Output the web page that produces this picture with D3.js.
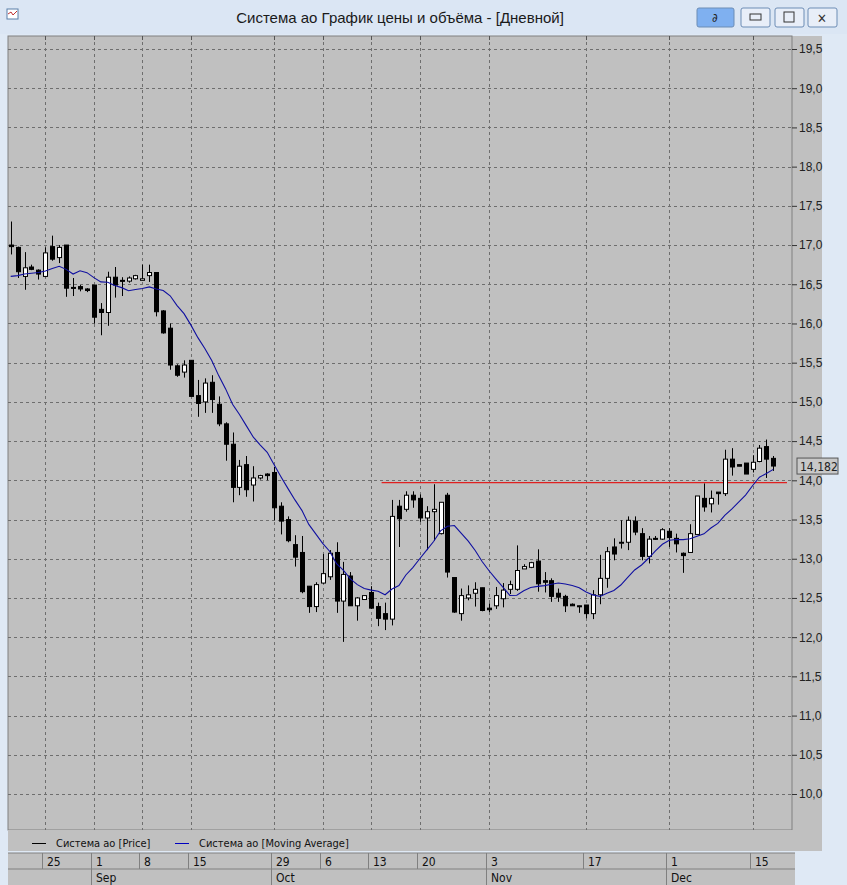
<!DOCTYPE html>
<html>
<head>
<meta charset="utf-8">
<script src="https://cdn.jsdelivr.net/npm/d3@7/dist/d3.min.js"></script>
<style>
  body { margin: 0; background: #dfe9f5; }
  svg { display: block; font-family: "Liberation Sans Narrow", "DejaVu Sans Condensed", sans-serif; }
</style>
</head>
<body>
<div id="chart"></div>
<script>
// OHLC per trading session
const opens  = [17.00,16.97,16.60,16.72,16.68,16.60,16.98,16.84,17.00,16.46,16.47,16.44,16.49,16.18,16.14,16.59,16.55,16.54,16.57,16.55,
  16.61,16.65,16.16,15.94,15.46,15.38,15.53,15.08,15.00,15.25,14.97,14.72,14.46,13.91,14.20,13.94,14.03,14.08,14.10,13.67,
  13.50,13.18,13.08,12.65,12.39,12.69,12.77,13.08,12.46,12.78,12.40,12.48,12.57,12.39,12.30,12.23,13.67,13.63,13.81,13.77,
  13.52,13.60,13.32,13.81,12.76,12.30,12.50,12.56,12.63,12.37,12.40,12.49,12.61,12.61,12.87,12.89,12.97,12.72,12.72,12.56,
  12.52,12.42,12.40,12.41,12.30,12.54,12.75,13.15,13.21,13.21,13.48,13.32,13.03,13.26,13.25,13.35,13.26,13.07,13.08,13.31,
  13.77,13.70,13.85,13.83,14.27,14.20,14.22,14.14,14.24,14.43,14.28];
const highs  = [17.30,16.98,16.91,16.75,16.69,16.97,17.12,17.00,17.00,16.58,16.49,16.45,16.49,16.26,16.66,16.72,16.59,16.60,16.62,16.75,
  16.75,16.65,16.17,16.00,15.48,15.53,15.53,15.28,15.30,15.34,15.07,14.74,14.61,14.26,14.31,14.18,14.07,14.09,14.17,13.72,
  13.54,13.30,13.29,12.65,12.70,13.06,13.11,13.21,12.96,12.83,12.51,12.53,12.65,12.44,12.44,13.75,13.75,13.86,13.86,13.82,
  13.67,13.95,13.72,13.84,12.76,12.62,12.66,12.70,12.63,12.43,12.64,12.69,12.72,13.17,12.93,12.96,13.12,12.83,12.75,12.62,
  12.54,12.43,12.40,12.41,12.60,13.05,13.15,13.26,13.49,13.54,13.54,13.39,13.29,13.29,13.39,13.39,13.32,13.08,13.44,13.80,
  13.96,13.87,13.85,14.39,14.41,14.20,14.22,14.32,14.45,14.52,14.31];
const lows   = [16.88,16.58,16.43,16.68,16.56,16.59,16.80,16.77,16.34,16.35,16.41,16.40,16.00,15.85,15.97,16.33,16.35,16.52,16.56,16.55,
  16.53,16.09,15.87,15.41,15.32,15.31,15.07,14.81,14.86,14.86,14.69,14.25,13.72,13.81,13.79,13.73,14.01,14.00,13.49,13.31,
  13.21,12.90,12.56,12.31,12.32,12.68,12.73,12.31,11.94,12.40,12.21,12.48,12.36,12.14,12.09,12.15,13.15,13.60,13.65,13.47,
  13.11,13.23,13.31,12.76,12.31,12.21,12.47,12.39,12.33,12.32,12.36,12.38,12.55,12.59,12.87,12.88,12.58,12.57,12.45,12.45,
  12.32,12.40,12.31,12.24,12.23,12.42,12.63,12.98,13.13,13.11,13.30,12.98,12.94,13.24,13.24,13.15,13.08,12.82,13.08,13.31,
  13.60,13.59,13.69,13.80,14.06,14.18,14.08,14.10,14.23,14.03,14.12];
const closes = [16.98,16.66,16.71,16.69,16.63,16.90,16.82,16.97,16.45,16.45,16.44,16.42,16.08,16.14,16.59,16.49,16.54,16.58,16.61,16.57,
  16.65,16.15,15.88,15.47,15.34,15.47,15.07,14.98,15.24,15.03,14.72,14.46,13.91,14.18,13.88,14.03,14.06,14.06,13.65,13.48,
  13.23,13.02,12.58,12.39,12.67,12.81,13.07,12.46,12.80,12.40,12.50,12.53,12.37,12.24,12.23,13.54,13.51,13.81,13.75,13.52,
  13.60,13.63,13.72,12.83,12.32,12.53,12.54,12.61,12.34,12.35,12.53,12.60,12.67,12.85,12.90,12.95,12.68,12.70,12.52,12.51,
  12.40,12.40,12.39,12.30,12.54,12.75,13.09,13.06,13.21,13.49,13.34,13.03,13.25,13.25,13.37,13.27,13.19,13.04,13.32,13.80,
  13.66,13.77,13.83,14.27,14.17,14.18,14.08,14.23,14.41,14.27,14.182];
// moving average (10) values at the first sessions
const maSeed = [16.60,16.61,16.63,16.64,16.65,16.67,16.70,16.73,16.69,16.63];
const maPeriod = 10;

const dayTickIdx   = [5, 12, 19, 26, 38, 45, 52, 59, 69, 83, 95, 107];
const dayTickLabel = ["25", "1", "8", "15", "29", "6", "13", "20", "3", "17", "1", "15"];
const monthIdx     = [12, 38, 69, 95];
const monthLabel   = ["Sep", "Oct", "Nov", "Dec"];
const priceTicks   = d3.range(10, 19.51, 0.5);
const levelValue = 13.97, levelFrom = 53.5;

const W = 847, H = 885;
const plot = { left: 8, right: 792, top: 36, bottom: 830 };

const svg = d3.select("#chart").append("svg").attr("width", W).attr("height", H);

// window frame
svg.append("rect").attr("width", W).attr("height", H).attr("fill", "#dfe9f5");
svg.append("rect").attr("width", W).attr("height", 34).attr("fill", "#dbe6f4");
svg.append("rect").attr("x", 7).attr("y", 9).attr("width", 11).attr("height", 10).attr("fill", "#fff").attr("stroke", "#5a7fa8");
svg.append("path").attr("d", "M8,14 L11,12 L13,15 L17,11").attr("stroke", "#c03030").attr("fill", "none");
svg.append("text").attr("x", 400).attr("y", 23).attr("text-anchor", "middle").attr("font-size", 15)
  .attr("font-family", "Liberation Sans, sans-serif").attr("fill", "#1a1a1a")
  .text("Система ао График цены и объёма - [Дневной]");
const buttons = [[697, "#7fb0f0"], [741, "#e8eef8"], [775, "#e8eef8"], [808, "#e8eef8"]];
buttons.forEach(([bx, c]) => {
  svg.append("rect").attr("x", bx).attr("y", 8).attr("width", bx === 697 ? 37 : 29).attr("height", 19)
    .attr("rx", 2).attr("fill", c).attr("stroke", "#6d8db5");
});
svg.append("rect").attr("x", 750).attr("y", 14).attr("width", 11).attr("height", 6).attr("fill", "none").attr("stroke", "#333");
svg.append("rect").attr("x", 784).attr("y", 12).attr("width", 10).attr("height", 10).attr("fill", "none").attr("stroke", "#333");
svg.append("text").attr("x", 822).attr("y", 23).attr("text-anchor", "middle").attr("font-size", 13).attr("fill", "#333").text("✕");
svg.append("text").attr("x", 715).attr("y", 22).attr("text-anchor", "middle").attr("font-size", 12).attr("fill", "#222").text("∂");

// chart panes
svg.append("rect").attr("x", plot.left).attr("y", plot.top).attr("width", 814).attr("height", 794).attr("fill", "#c0c0c0");
svg.append("rect").attr("x", plot.left).attr("y", plot.top).attr("width", plot.right - plot.left).attr("height", plot.bottom - plot.top)
  .attr("fill", "#c0c0c0").attr("stroke", "#808080");
svg.append("rect").attr("x", plot.left).attr("y", 830).attr("width", 814).attr("height", 21).attr("fill", "#c0c0c0");
svg.append("rect").attr("x", plot.left).attr("y", 853).attr("width", 787).attr("height", 32).attr("fill", "#c0c0c0");
svg.append("line").attr("x1", plot.left).attr("x2", 795).attr("y1", 869).attr("y2", 869).attr("stroke", "#808080");
svg.append("line").attr("x1", plot.left).attr("x2", 795).attr("y1", 853).attr("y2", 853).attr("stroke", "#808080");

const n = closes.length;
const x = d3.scaleLinear().domain([0, n - 1]).range([10.7, 773.3]);
const y = d3.scaleLinear().domain([10, 19.5]).range([794, 49]);

const g = svg.append("g");

// grid
g.selectAll(".hg").data(priceTicks).join("line")
  .attr("x1", plot.left).attr("x2", plot.right)
  .attr("y1", d => Math.round(y(d)) + 0.5).attr("y2", d => Math.round(y(d)) + 0.5)
  .attr("stroke", "#6e6e6e").attr("stroke-dasharray", "3,3");
g.selectAll(".vg").data(dayTickIdx).join("line")
  .attr("x1", d => Math.round(x(d)) + 0.5).attr("x2", d => Math.round(x(d)) + 0.5)
  .attr("y1", plot.top).attr("y2", plot.bottom)
  .attr("stroke", "#6e6e6e").attr("stroke-dasharray", "3,3");

// y axis on the right
const yAxis = d3.axisRight(y).tickValues(priceTicks).tickSize(5)
  .tickFormat(d => d3.format(".1f")(d).replace(".", ","));
const ya = svg.append("g").attr("transform", `translate(${plot.right},0)`).call(yAxis);
ya.select(".domain").remove();
ya.selectAll("line").attr("stroke", "#333");
ya.selectAll("text").attr("font-size", 12).attr("fill", "#222").attr("x", 7);

// level line
g.append("line").attr("x1", x(levelFrom)).attr("x2", 787)
  .attr("y1", y(levelValue)).attr("y2", y(levelValue)).attr("stroke", "#e02020").attr("stroke-width", 1.2);

// candles
const data = closes.map((c, i) => ({ i, o: opens[i], h: highs[i], l: lows[i], c }));
const bw = 5;
g.selectAll(".wick").data(data).join("line")
  .attr("x1", d => Math.round(x(d.i)) + 0.5).attr("x2", d => Math.round(x(d.i)) + 0.5)
  .attr("y1", d => y(d.h)).attr("y2", d => y(d.l)).attr("stroke", "#000");
g.selectAll(".body").data(data).join("rect")
  .attr("x", d => Math.round(x(d.i)) - 2 + 0.5)
  .attr("y", d => y(Math.max(d.o, d.c)))
  .attr("width", bw - 1)
  .attr("height", d => Math.max(1, Math.abs(y(d.o) - y(d.c))))
  .attr("fill", d => d.c >= d.o ? "#fff" : "#000")
  .attr("stroke", "#000");

// moving average
const ma = closes.map((c, i) => i < maSeed.length ? maSeed[i] : d3.mean(closes.slice(i - maPeriod + 1, i + 1)));
g.append("path").datum(ma)
  .attr("d", d3.line().x((d, i) => x(i)).y(d => y(d)))
  .attr("fill", "none").attr("stroke", "#1010a0").attr("stroke-width", 1.1);

// last price label
const last = closes[n - 1];
svg.append("rect").attr("x", 797).attr("y", y(last) - 8).attr("width", 41).attr("height", 16)
  .attr("fill", "#c8c8c8").attr("stroke", "#555");
svg.append("text").attr("x", 800).attr("y", y(last) + 4.5).attr("font-size", 12).attr("fill", "#222")
  .text(String(last).replace(".", ","));

// top tick marks
svg.selectAll(".tt").data(dayTickIdx).join("line")
  .attr("x1", d => Math.round(x(d)) + 0.5).attr("x2", d => Math.round(x(d)) + 0.5)
  .attr("y1", plot.top).attr("y2", plot.top + 4).attr("stroke", "#555");

// legend
const legend = [["#000", "Система ао [Price]", 32], ["#0000c0", "Система ао [Moving Average]", 175]];
legend.forEach(([c, t, lx]) => {
  svg.append("line").attr("x1", lx).attr("x2", lx + 14).attr("y1", 843.5).attr("y2", 843.5).attr("stroke", c);
  svg.append("text").attr("x", lx + 24).attr("y", 847).attr("font-size", 11).attr("fill", "#111").text(t);
});

// date axis
const xa = svg.append("g");
xa.selectAll(".sep").data(dayTickIdx).join("line")
  .attr("x1", d => Math.round(x(d)) - 2.5).attr("x2", d => Math.round(x(d)) - 2.5)
  .attr("y1", 853).attr("y2", 869).attr("stroke", "#808080");
xa.selectAll(".dl").data(dayTickIdx).join("text")
  .attr("x", d => Math.round(x(d)) + 2).attr("y", 866).attr("font-size", 12).attr("fill", "#111")
  .text((d, k) => dayTickLabel[k]);
xa.selectAll(".msep").data(monthIdx).join("line")
  .attr("x1", d => Math.round(x(d)) - 2.5).attr("x2", d => Math.round(x(d)) - 2.5)
  .attr("y1", 869).attr("y2", 885).attr("stroke", "#808080");
xa.selectAll(".ml").data(monthIdx).join("text")
  .attr("x", d => Math.round(x(d)) + 2).attr("y", 882).attr("font-size", 12).attr("fill", "#111")
  .text((d, k) => monthLabel[k]);
</script>
</body>
</html>
